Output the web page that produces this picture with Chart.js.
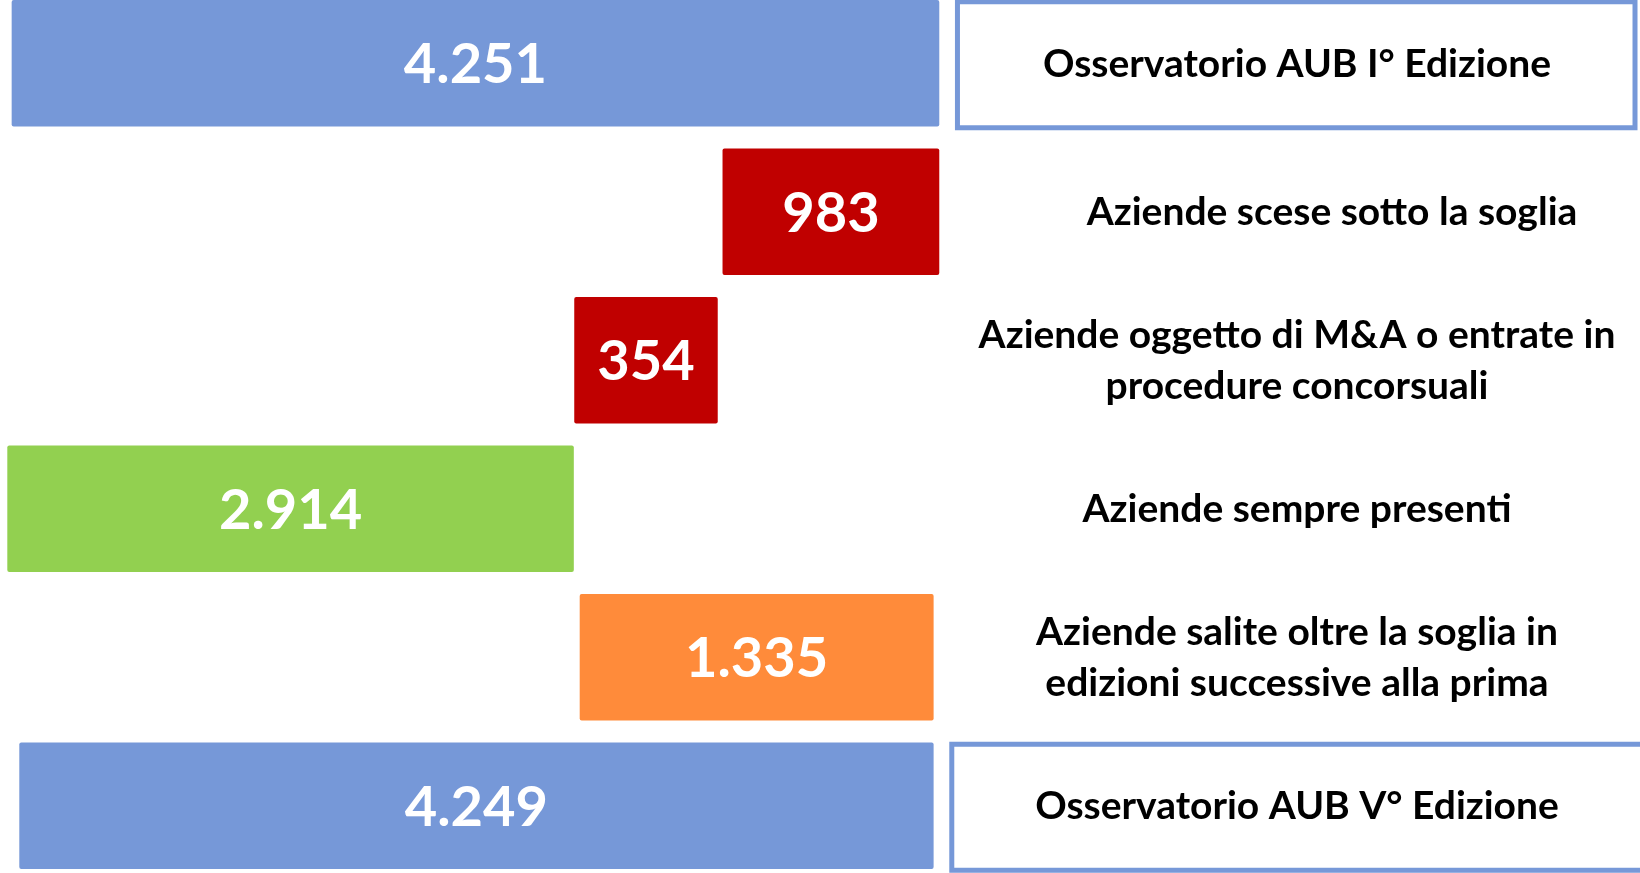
<!DOCTYPE html>
<html><head><meta charset="utf-8">
<script src="https://cdn.jsdelivr.net/npm/chart.js@4.4.1/dist/chart.umd.min.js"></script>
<style>
html,body{margin:0;padding:0;background:#fff;overflow:hidden;width:1640px;height:873px;}
#wrap{position:absolute;left:0;top:-11px;width:1640px;height:891px;}
</style></head><body>
<div id="wrap"><canvas id="c"></canvas></div>
<script>
// ---- data ----
const categories = [
  ["Osservatorio AUB I° Edizione"],
  ["Aziende scese sotto la soglia"],
  ["Aziende oggetto di M&A o entrate in", "procedure concorsuali"],
  ["Aziende sempre presenti"],
  ["Aziende salite oltre la soglia in", "edizioni successive alla prima"],
  ["Osservatorio AUB V° Edizione"]
];
const values = [4251, 983, 354, 2914, 1335, 4249];
const valueLabels = ["4.251", "983", "354", "2.914", "1.335", "4.249"];
// bar extents (value units) as drawn in the infographic
const barStart = [0, 3260, 2580, -20, 2605, 35];
const barEnd = [4251, 4251, 3235, 2575, 4225, 4225];
const barColors = ["#7698D8", "#C00000", "#C00000", "#92D050", "#FF8B3A", "#7698D8"];
const boxedRows = [0, 5];

// ---- drawing styles ----
const BOX_COLOR = "#7698D8";
const LABEL_X = 1297;
const LABEL_SHIFT = [0, 35, 0, 0, 0, 0];
const LABEL_FONT = "bold 39px Lato";
const LABEL_LINE = 51;
const VALUE_FONT = "bold 56px Lato";

const labelPlugin = {
  id: "labelPlugin",
  afterDatasetsDraw(chart) {
    const ctx = chart.ctx;
    const meta = chart.getDatasetMeta(0);
    const yScale = chart.scales.y;
    ctx.save();
    // boxes
    boxedRows.forEach((r, k) => {
      const el = meta.data[r];
      const p = el.getProps(["x", "base", "y", "height"], true);
      const right = Math.max(p.x, p.base);
      const top = p.y - p.height / 2 + 1.5;
      const bottom = p.y + p.height / 2 + 1.5;
      const left = right + 18.5;
      const rEdge = k === 0 ? 1635 : 1660;
      ctx.strokeStyle = BOX_COLOR;
      ctx.lineWidth = 5;
      ctx.strokeRect(left, top, rEdge - left, bottom - top);
    });
    // value labels
    ctx.textAlign = "center";
    ctx.textBaseline = "middle";
    meta.data.forEach((el, i) => {
      const p = el.getProps(["x", "base", "y"], true);
      ctx.font = VALUE_FONT;
      ctx.fillStyle = "#ffffff";
      ctx.fillText(valueLabels[i], (p.x + p.base) / 2, p.y + 2);
    });
    // category labels
    categories.forEach((lines, i) => {
      const cy = yScale.getPixelForValue(i);
      ctx.font = LABEL_FONT;
      ctx.fillStyle = "#000000";
      const n = lines.length;
      lines.forEach((t, j) => {
        ctx.fillText(t, LABEL_X + LABEL_SHIFT[i], cy + (j - (n - 1) / 2) * LABEL_LINE + 1);
      });
    });
    ctx.restore();
  }
};

new Chart(document.getElementById("c"), {
  type: "bar",
  data: {
    labels: categories.map(c => c.join(" ")),
    datasets: [{
      data: barStart.map((s, i) => [s, barEnd[i]]),
      backgroundColor: barColors,
      borderWidth: 0,
      borderRadius: 2,
      borderSkipped: false,
      barThickness: 126
    }]
  },
  options: {
    indexAxis: "y",
    responsive: true,
    maintainAspectRatio: false,
    animation: false,
    layout: { padding: 0 },
    plugins: { legend: { display: false }, tooltip: { enabled: false } },
    scales: {
      x: { type: "linear", min: -55, max: 7466, display: false },
      y: { display: false }
    }
  },
  plugins: [labelPlugin]
});
</script>
</body></html>
